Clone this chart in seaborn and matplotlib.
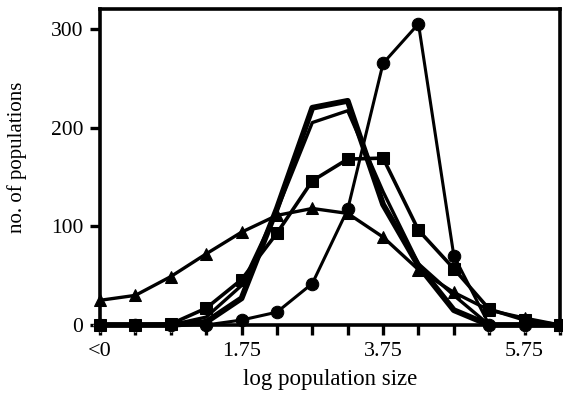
import matplotlib
matplotlib.use("Agg")
import matplotlib.pyplot as plt
import seaborn as sns
import pandas as pd
import numpy as np

# --- data ---
bins = list(range(14))
tick_labels = ["<0", "", "", "", "1.75", "", "", "", "3.75", "", "", "", "5.75", ""]
circles = [0, 0, 0, 0, 5, 13, 42, 117, 265, 305, 70, 0, 0, 0]
squares = [0, 0, 1, 17, 46, 93, 146, 168, 169, 96, 57, 16, 5, 0]
triangles = [25, 30, 49, 72, 94, 111, 118, 113, 89, 56, 33, 15, 7, 0]
thick_line = [0, 0, 0, 3, 27, 118, 220, 227, 122, 60, 15, 0, 0, 0]
thin_line = [0, 0, 0, 8, 40, 116, 205, 217, 135, 62, 30, 0, 0, 0]

sns.set_theme(style="ticks")
plt.rcParams["font.family"] = ["Liberation Serif", "DejaVu Serif"]

fig = plt.figure(figsize=(5.63, 3.99), dpi=100)
ax = fig.add_axes([0.1776, 0.1855, 0.8171, 0.7919])

df = pd.DataFrame({"bin": bins, "circles": circles, "squares": squares,
                   "triangles": triangles, "thick": thick_line, "thin": thin_line})

zero_idx = [i for i, v in enumerate(thick_line) if v == 0]
sns.lineplot(data=df, x="bin", y="thick", ax=ax, color="black", lw=4.2,
             marker="D", markersize=7, markevery=zero_idx, clip_on=False)
sns.lineplot(data=df, x="bin", y="thin", ax=ax, color="black", lw=2.4, clip_on=False)
sns.lineplot(data=df, x="bin", y="triangles", ax=ax, color="black", lw=2.4,
             marker="^", markersize=9, markeredgecolor="black", clip_on=False)
sns.lineplot(data=df, x="bin", y="squares", ax=ax, color="black", lw=2.6,
             marker="s", markersize=9, markeredgecolor="black", clip_on=False)
sns.lineplot(data=df, x="bin", y="circles", ax=ax, color="black", lw=2.2,
             marker="o", markersize=9, markeredgecolor="black", clip_on=False)

ax.set_xlim(0, 13)
ax.set_ylim(0, 320)
ax.set_xticks(bins)
ax.set_xticklabels(tick_labels)
ax.set_yticks([0, 100, 200, 300])
ax.set_yticklabels(["0", "100", "200", "300"])
ax.tick_params(axis="both", direction="out", length=7, width=2.4,
               color="black", labelcolor="black")
ax.tick_params(axis="y", labelsize=15.5, pad=5)
ax.tick_params(axis="x", labelsize=16, pad=5)
for s in ax.spines.values():
    s.set_linewidth(2.6)
    s.set_color("black")
    s.set_visible(True)
ax.set_xlabel("log population size", fontsize=16.5, color="black", labelpad=6)
ax.set_ylabel("no. of populations", fontsize=15, color="black", labelpad=10)
ax.yaxis.set_label_coords(-0.158, 0.53)
ax.grid(False)

fig.savefig("out.png", dpi=100)
